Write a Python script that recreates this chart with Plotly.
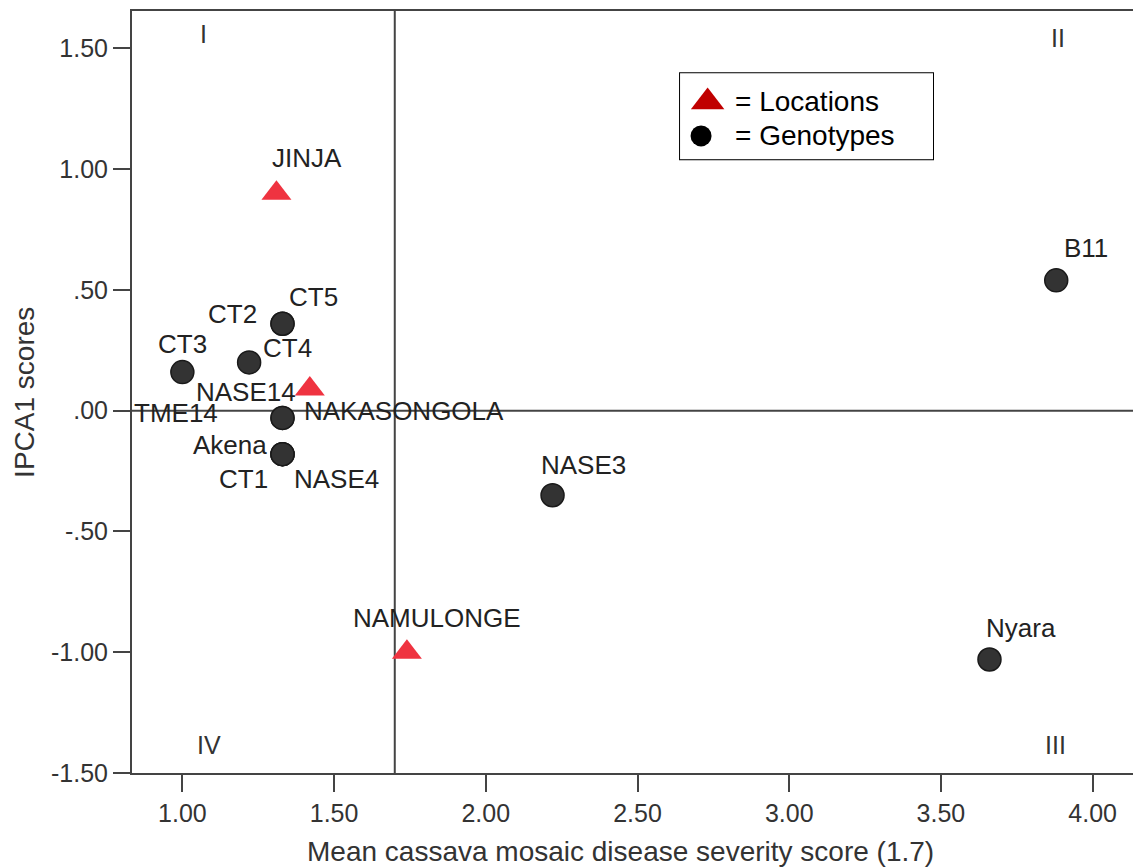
import plotly.graph_objects as go

# ---------------- data ----------------
geno_names = ["CT2", "CT5", "CT4", "CT3", "NASE14", "TME14", "Akena", "CT1", "NASE4", "NASE3", "B11", "Nyara"]
geno_x = [1.33, 1.33, 1.22, 1.00, 1.33, 1.33, 1.33, 1.33, 1.33, 2.22, 3.88, 3.66]
geno_y = [0.36, 0.36, 0.20, 0.16, -0.03, -0.03, -0.18, -0.18, -0.18, -0.35, 0.54, -1.03]

loc_names = ["JINJA", "NAKASONGOLA", "NAMULONGE"]
loc_x = [1.31, 1.42, 1.74]
loc_y = [0.90, 0.09, -1.00]

x_ticks = [1.0, 1.5, 2.0, 2.5, 3.0, 3.5, 4.0]
x_ticktext = ["1.00", "1.50", "2.00", "2.50", "3.00", "3.50", "4.00"]
y_ticks = [1.5, 1.0, 0.5, 0.0, -0.5, -1.0, -1.5]
y_ticktext = ["1.50", "1.00", ".50", ".00", "-.50", "-1.00", "-1.50"]

REF_X = 1.7   # grand mean severity
REF_Y = 0.0

# label offsets in screen pixels (dx right, dy down) -- styling only
geno_label_off = {
    "CT2": (-50, -10), "CT5": (31, -27), "CT4": (38, -14), "CT3": (0, -28),
    "NASE14": (-37, -26), "TME14": (-107, -5), "Akena": (-53, -9),
    "CT1": (-39, 25), "NASE4": (54, 25), "NASE3": (31, -30),
    "B11": (30, -32), "Nyara": (32, -31),
}
loc_label_off = {"JINJA": (31, -35), "NAKASONGOLA": (94, 22), "NAMULONGE": (30, -34)}

FONT = "Liberation Sans, Arial, sans-serif"
AXC = "#444444"

fig = go.Figure()

fig.add_trace(go.Scatter(
    x=geno_x, y=geno_y, mode="markers", name="Genotypes",
    marker=dict(symbol="circle", size=23, color="#333333",
                line=dict(color="#1a1a1a", width=1.5)),
    hoverinfo="text", text=geno_names, showlegend=False))

fig.add_trace(go.Scatter(
    x=loc_x, y=loc_y, mode="markers", name="Locations",
    marker=dict(symbol="triangle-up", size=26, color="#EF3340",
                line=dict(width=0)),
    hoverinfo="text", text=loc_names, showlegend=False))

# legend symbols on an overlay axis inside the legend box
fig.add_trace(go.Scatter(
    x=[0.109], y=[0.666], xaxis="x2", yaxis="y2", mode="markers",
    marker=dict(symbol="triangle-up", size=29, color="#C00000", line=dict(width=0)),
    showlegend=False, hoverinfo="skip"))
fig.add_trace(go.Scatter(
    x=[0.083], y=[0.271], xaxis="x2", yaxis="y2", mode="markers",
    marker=dict(symbol="circle", size=21, color="#000000", line=dict(width=0)),
    showlegend=False, hoverinfo="skip"))

annotations = []
for n, x, y in zip(geno_names, geno_x, geno_y):
    dx, dy = geno_label_off[n]
    annotations.append(dict(x=x, y=y, xref="x", yref="y", text=n, showarrow=False,
                            xshift=dx, yshift=-dy, xanchor="center", yanchor="middle",
                            font=dict(family=FONT, size=26, color="#222222")))
for n, x, y in zip(loc_names, loc_x, loc_y):
    dx, dy = loc_label_off[n]
    annotations.append(dict(x=x, y=y, xref="x", yref="y", text=n, showarrow=False,
                            xshift=dx, yshift=-dy, xanchor="center", yanchor="middle",
                            font=dict(family=FONT, size=26, color="#222222")))

# quadrant numerals
for txt, qx, qy in [("I", 0.0719, 0.9695), ("II", 0.925, 0.9642),
                    ("III", 0.923, 0.0371), ("IV", 0.0769, 0.0371)]:
    annotations.append(dict(x=qx, y=qy, xref="paper", yref="paper", text=txt,
                            showarrow=False, xanchor="center", yanchor="middle",
                            font=dict(family=FONT, size=25, color="#333333")))

# legend texts
annotations.append(dict(x=0.2095, y=0.674, xref="x2", yref="y2", text="= Locations",
                        showarrow=False, xanchor="left", yanchor="middle",
                        font=dict(family=FONT, size=28, color="#000000")))
annotations.append(dict(x=0.2095, y=0.279, xref="x2", yref="y2", text="= Genotypes",
                        showarrow=False, xanchor="left", yanchor="middle",
                        font=dict(family=FONT, size=28, color="#000000")))

# axis titles
annotations.append(dict(x=0.4885, y=-0.103, xref="paper", yref="paper",
                        text="Mean cassava mosaic disease severity score (1.7)",
                        showarrow=False, xanchor="center", yanchor="middle",
                        font=dict(family=FONT, size=28, color="#333333")))
annotations.append(dict(x=-0.108, y=0.5, xref="paper", yref="paper",
                        text="IPCA1 scores", textangle=-90,
                        showarrow=False, xanchor="center", yanchor="middle",
                        font=dict(family=FONT, size=28, color="#333333")))

shapes = [
    dict(type="line", xref="x", yref="paper", x0=REF_X, x1=REF_X, y0=0, y1=1,
         line=dict(color=AXC, width=2), layer="below"),
    dict(type="line", xref="paper", yref="y", x0=0, x1=1, y0=REF_Y, y1=REF_Y,
         line=dict(color=AXC, width=2), layer="below"),
    dict(type="rect", xref="paper", yref="paper", x0=0.5475, x1=0.8002,
         y0=0.8055, y1=0.9183, line=dict(color="#000000", width=2),
         fillcolor="white", layer="below"),
]

axis_common = dict(showgrid=False, zeroline=False, showline=True, linecolor=AXC,
                   linewidth=2, ticks="outside", ticklen=17, tickwidth=2,
                   tickcolor=AXC, tickfont=dict(family=FONT, size=25, color="#333333"))

fig.update_layout(
    width=1133, height=867,
    margin=dict(l=132, r=0, t=11, b=94),
    paper_bgcolor="white", plot_bgcolor="white",
    showlegend=False,
    xaxis=dict(range=[0.834, 4.133], tickvals=x_ticks, ticktext=x_ticktext,
               mirror=True, **axis_common),
    yaxis=dict(range=[-1.5, 1.655], tickvals=y_ticks, ticktext=y_ticktext,
               **axis_common),
    xaxis2=dict(domain=[0.5475, 0.8002], range=[0, 1], anchor="y2", visible=False),
    yaxis2=dict(domain=[0.8055, 0.9183], range=[0, 1], anchor="x2", visible=False),
    annotations=annotations,
    shapes=shapes,
)

fig.write_html("out.html")
